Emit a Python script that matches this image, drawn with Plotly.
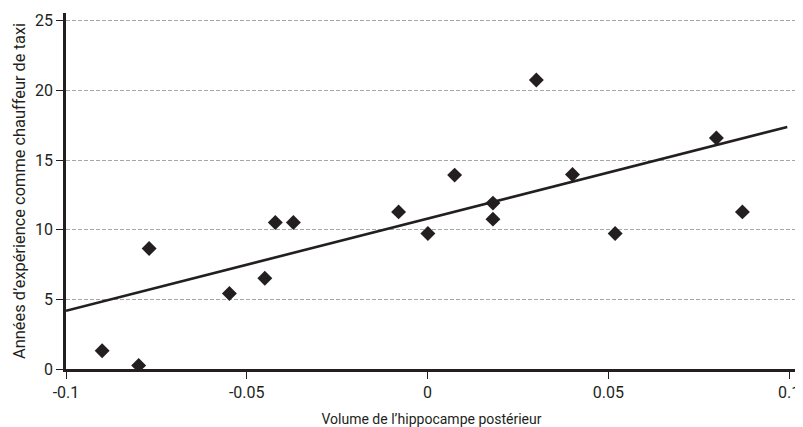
import plotly.graph_objects as go

# Data
volume = [-0.0900, -0.0799, -0.0770, -0.0548, -0.0450, -0.0421, -0.0371, -0.0080,
          0.0001, 0.0075, 0.0181, 0.0181, 0.0301, 0.0401, 0.0519, 0.0799, 0.0871]
annees = [1.31, 0.26, 8.65, 5.42, 6.51, 10.52, 10.52, 11.28,
          9.73, 13.92, 11.91, 10.76, 20.75, 13.96, 9.73, 16.59, 11.28]
trend_x = [-0.1, 0.0995]
trend_y = [4.18, 17.38]

x_ticks = [-0.1, -0.05, 0, 0.05, 0.1]
x_ticklabels = ["-0.1", "-0.05", "0", "0.05", "0.1"]
y_ticks = [0, 5, 10, 15, 20, 25]

dark = "#231f20"
font_family = "Roboto, Liberation Sans, sans-serif"

fig = go.Figure()
fig.add_trace(go.Scatter(
    x=trend_x, y=trend_y, mode="lines",
    line=dict(color=dark, width=2.6), hoverinfo="skip", showlegend=False))
fig.add_trace(go.Scatter(
    x=volume, y=annees, mode="markers",
    marker=dict(symbol="diamond", size=11.5, color=dark, line=dict(width=0)),
    showlegend=False))

# The page body has an 8px default margin, so the figure is sized to fit the window.
fig.update_layout(
    width=795, height=419,
    margin=dict(l=58, r=6, t=5, b=58),
    paper_bgcolor="white", plot_bgcolor="white",
    font=dict(family=font_family, color=dark, size=16),
    xaxis=dict(
        range=[-0.1, 0.1022], tickvals=x_ticks, ticktext=x_ticklabels,
        showgrid=False, zeroline=False, automargin=False,
        showline=True, linecolor=dark, linewidth=2.5,
        ticks="outside", ticklen=7, tickwidth=1, tickcolor=dark,
        tickfont=dict(size=16),
        title=dict(text="Volume de l\u2019hippocampe postérieur", font=dict(size=14), standoff=25),
    ),
    yaxis=dict(
        range=[0, 25.56], tickvals=y_ticks,
        showgrid=True, gridcolor="#a6a6a6", gridwidth=1, griddash="4px,2px",
        zeroline=False, automargin=False,
        showline=True, linecolor=dark, linewidth=2.5,
        ticks="outside", ticklen=7, tickwidth=1, tickcolor=dark,
        tickfont=dict(size=16),
        title=dict(text="Années d\u2019expérience comme chauffeur de taxi", font=dict(size=16.4), standoff=6),
    ),
)

fig.write_html("out.html")
